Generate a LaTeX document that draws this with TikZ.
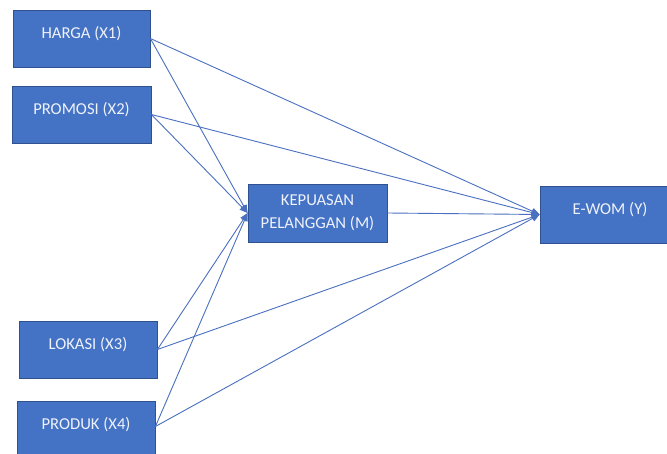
\documentclass[tikz,border=0pt]{standalone}
\usepackage{fontspec}
\setmainfont{Carlito}
\usetikzlibrary{arrows.meta}
\definecolor{boxfill}{HTML}{4472C4}
\definecolor{boxline}{HTML}{2F528F}
\definecolor{arrowc}{HTML}{4A70C0}
\definecolor{boxtext}{HTML}{EEF2FA}
\tikzset{
  varbox/.style={draw=boxline, line width=0.8bp, fill=boxfill, text=boxtext,
    minimum height=57bp, inner sep=0pt, font=\fontsize{16.7}{23}\selectfont,
    text height=10bp, text depth=10bp},
  midbox/.style={draw=boxline, line width=0.8bp, fill=boxfill, text=boxtext,
    minimum height=58bp, inner sep=0pt, font=\fontsize{16.7}{23}\selectfont, align=center},
  link/.style={draw=arrowc, line width=0.9bp, -{Triangle[length=8bp,width=6.5bp]}},
}
\begin{document}
\begin{tikzpicture}[x=1bp,y=-1bp]
\useasboundingbox (0,0) rectangle (667,454);
\fill[white] (0,0) rectangle (667,454);
\node[varbox, minimum width=137bp] (h) at (81.5,38.5) {HARGA (X1)};
\node[varbox, minimum width=139bp] (p) at (81.5,114.5) {PROMOSI (X2)};
\node[midbox, minimum width=139bp] (k) at (317.5,213) {KEPUASAN\\PELANGGAN (M)};
\node[varbox, minimum width=140bp] (e) at (610,214.5) {E-WOM (Y)};
\node[varbox, minimum width=138bp] (l) at (88,349.5) {LOKASI (X3)};
\node[varbox, minimum width=138bp] (r) at (86,429.5) {PRODUK (X4)};
\draw[link] (h.east) -- (k.west);
\draw[link] (h.east) -- (e.west);
\draw[link] (p.east) -- (k.west);
\draw[link] (p.east) -- (e.west);
\draw[link] (l.east) -- (k.west);
\draw[link] (l.east) -- (e.west);
\draw[link] ([yshift=3bp]r.east) -- (k.west);
\draw[link] ([yshift=3bp]r.east) -- (e.west);
\draw[link] (k.east) -- (e.west);
\end{tikzpicture}
\end{document}
